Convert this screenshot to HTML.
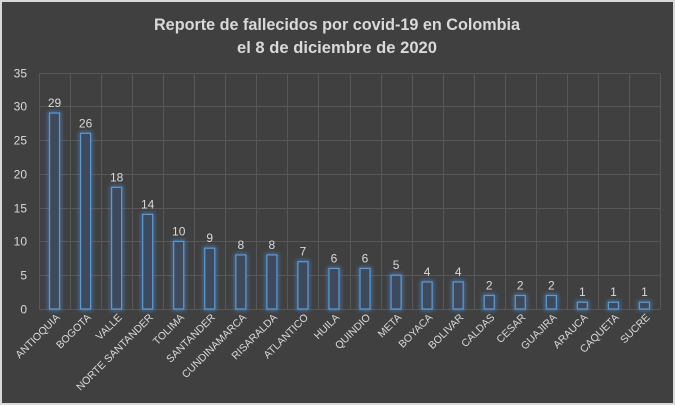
<!DOCTYPE html>
<html><head><meta charset="utf-8"><style>html,body{margin:0;padding:0;background:#404040}svg{display:block}</style></head>
<body>
<svg width="675" height="405" viewBox="0 0 675 405" xmlns="http://www.w3.org/2000/svg" font-family="Liberation Sans, sans-serif">
<defs><filter id="g" x="-1" y="-1" width="3" height="3"><feGaussianBlur stdDeviation="2"/></filter></defs>
<rect x="0" y="0" width="675" height="405" fill="#d9d9d9"/>
<rect x="2" y="2" width="671" height="401" fill="#404040"/>
<text x="337" y="30" text-anchor="middle" font-weight="bold" font-size="17" fill="#d9d9d9" textLength="366" lengthAdjust="spacingAndGlyphs">Reporte de fallecidos por covid-19 en Colombia</text>
<text x="337" y="53" text-anchor="middle" font-weight="bold" font-size="17" fill="#d9d9d9" textLength="200" lengthAdjust="spacingAndGlyphs">el 8 de diciembre de 2020</text>
<g id="grid" stroke="#575757" stroke-width="1"></g>
<g id="bars"></g>
<g id="lab" fill="#d9d9d9" font-size="10.5"></g>
<script>
var d=[["ANTIOQUIA",29],["BOGOTA",26],["VALLE",18],["NORTE SANTANDER",14],["TOLIMA",10],["SANTANDER",9],["CUNDINAMARCA",8],["RISARALDA",8],["ATLANTICO",7],["HUILA",6],["QUINDIO",6],["META",5],["BOYACA",4],["BOLIVAR",4],["CALDAS",2],["CESAR",2],["GUAJIRA",2],["ARAUCA",1],["CAQUETA",1],["SUCRE",1]];
var ns="http://www.w3.org/2000/svg",x0=39,w=31.05,y0=309,s=236.5/35;
function el(t,a,p,txt){var e=document.createElementNS(ns,t);for(var k in a)e.setAttribute(k,a[k]);if(txt!=null)e.textContent=txt;document.getElementById(p).appendChild(e);return e;}
for(var v=0;v<=35;v+=5){var y=Math.round(y0-v*s)+0.5;el("line",{x1:x0,x2:x0+20*w,y1:y,y2:y},"grid");el("text",{x:27,y:y+4,"text-anchor":"end","font-size":"12"},"lab",v);}
for(var i=0;i<=20;i++){var x=Math.round(x0+i*w)+0.5;el("line",{x1:x,x2:x,y1:Math.round(y0-35*s)+0.5,y2:y0+0.5},"grid");}
d.forEach(function(r,i){var c=x0+(i+0.5)*w,h=r[1]*s;
el("rect",{x:c-5,y:y0-h,width:10,height:h,fill:"none",stroke:"#4f8fd8","stroke-width":"3",filter:"url(#g)",opacity:"0.7"},"bars");
el("rect",{x:c-5,y:y0-h,width:10,height:h,fill:"#3e4a5c",stroke:"#5b9bd5","stroke-width":"1.2"},"bars");
el("text",{x:c,y:y0-h-6,"text-anchor":"middle","font-size":"12"},"lab",r[1]);
el("text",{x:c+6,y:318,"text-anchor":"end",transform:"rotate(-45 "+(c+6)+" 318)"},"lab",r[0]);});
</script>
</svg>
</body></html>
